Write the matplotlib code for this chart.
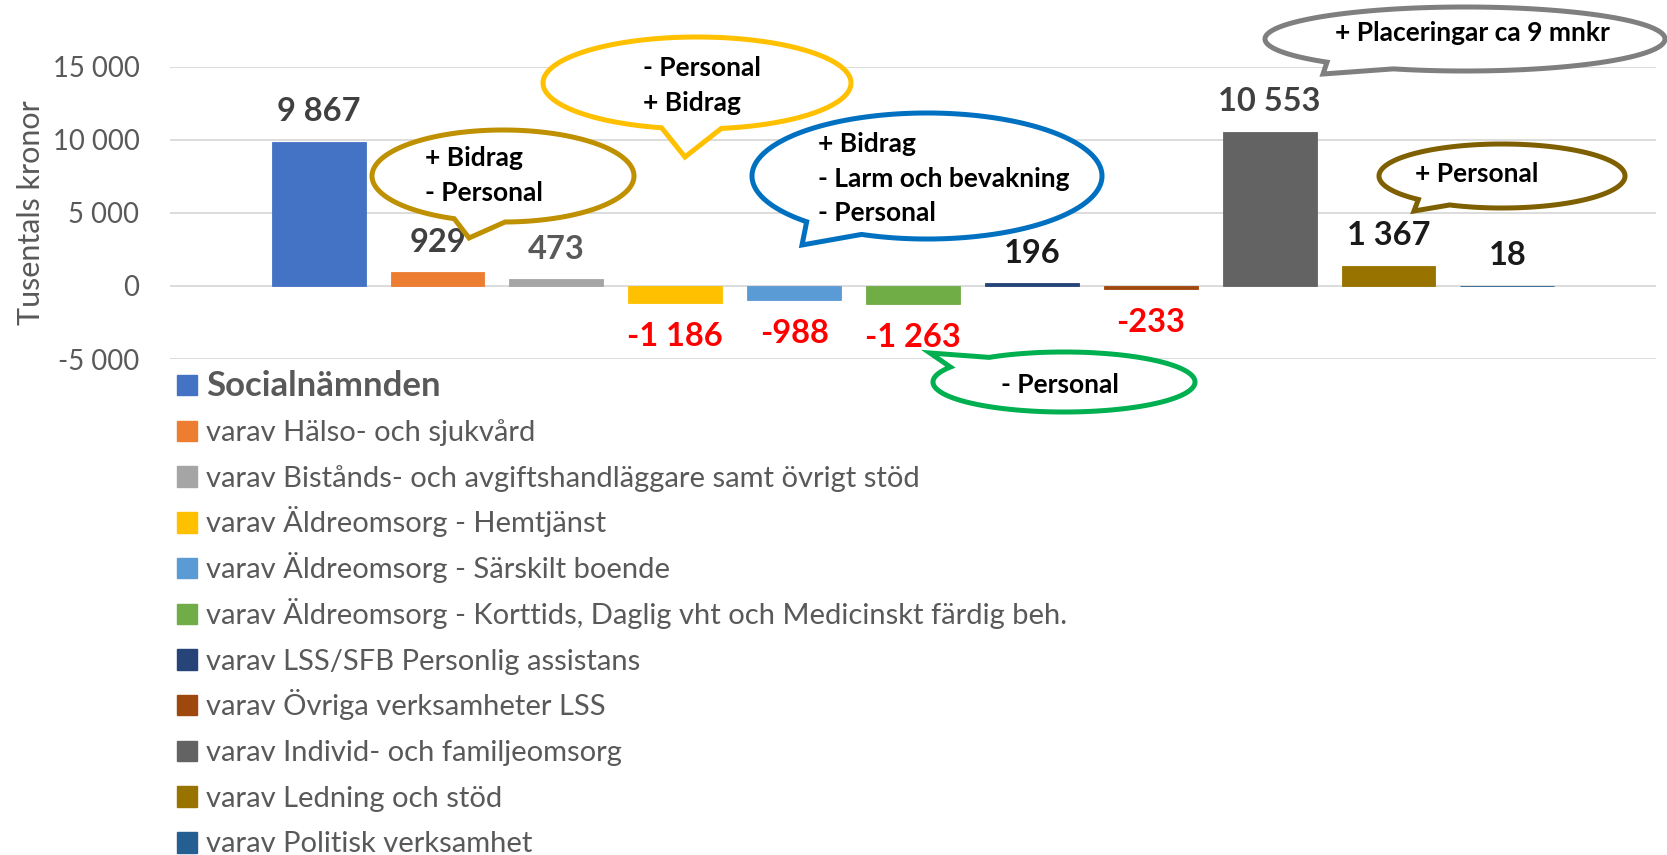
import matplotlib
matplotlib.use('Agg')
import matplotlib.pyplot as plt
import numpy as np
from matplotlib.path import Path
from matplotlib.patches import PathPatch, Rectangle

plt.rcParams['font.family'] = ['Lato', 'DejaVu Sans']

categories = [
	'Socialnämnden',
	'varav Hälso- och sjukvård',
	'varav Bistånds- och avgiftshandläggare samt övrigt stöd',
	'varav Äldreomsorg - Hemtjänst',
	'varav Äldreomsorg - Särskilt boende',
	'varav Äldreomsorg - Korttids, Daglig vht och Medicinskt färdig beh.',
	'varav LSS/SFB Personlig assistans',
	'varav Övriga verksamheter LSS',
	'varav Individ- och familjeomsorg',
	'varav Ledning och stöd',
	'varav Politisk verksamhet',
]
values = [9867, 929, 473, -1186, -988, -1263, 196, -233, 10553, 1367, 18]
colors = ['#4472C4', '#ED7D31', '#A5A5A5', '#FFC000', '#5B9BD5', '#70AD47',
	'#264478', '#9E480E', '#636363', '#997300', '#255E91']
label_colors = ['#404040', '#404040', '#595959', 'red', 'red', 'red',
	'#1a1a1a', 'red', '#404040', '#1a1a1a', '#1a1a1a']
yticks = [-5000, 0, 5000, 10000, 15000]

# speech bubbles, in pixel coords of the picture (x right, y down)
# (lines, colour, centre, radii, tip, base1, base2, text pos, align)
bubbles = [
	(['+ Bidrag', '- Personal'], '#BF9000', (503, 176), (131, 46),
		(469, 238), (455, 218), (505, 220), [(425, 158), (425, 193)], 'left'),
	(['- Personal', '+ Bidrag'], '#FFC000', (697, 83), (154, 46),
		(685, 157), (663, 126), (720, 126), [(643, 68), (643, 103)], 'left'),
	(['+ Bidrag', '- Larm och bevakning', '- Personal'], '#0070C0', (927, 176), (175, 63),
		(802, 245), (806, 222), (862, 234), [(818, 144), (818, 179), (818, 213)], 'left'),
	(['- Personal'], '#00B050', (1064, 382), (131, 30),
		(930, 353), (950, 367), (988, 357), [(1060, 385)], 'center'),
	(['+ Placeringar ca 9 mnkr'], '#7F7F7F', (1465, 39), (200, 32),
		(1323, 74), (1328, 62), (1393, 69), [(1472, 33)], 'center'),
	(['+ Personal'], '#7F6000', (1502, 176), (123, 32),
		(1414, 211), (1420, 199), (1455, 202), [(1415, 174)], 'left'),
]


def speech_bubble(ax, c, r, tip, base1, base2, color):
	cx, cy = c
	a, b = r
	t1 = np.arctan2((base1[1] - cy) / b, (base1[0] - cx) / a)
	t2 = np.arctan2((base2[1] - cy) / b, (base2[0] - cx) / a)
	if (t2 - t1) % (2 * np.pi) > np.pi:
		t1, t2 = t2, t1
	gap = (t2 - t1) % (2 * np.pi)
	ts = np.linspace(t2, t2 + 2 * np.pi - gap, 300)
	pts = np.column_stack([cx + a * np.cos(ts), cy + b * np.sin(ts)])
	verts = np.vstack([pts, [tip], pts[:1]])
	codes = [Path.MOVETO] + [Path.LINETO] * len(pts) + [Path.CLOSEPOLY]
	ax.add_patch(PathPatch(Path(verts, codes), facecolor='white', edgecolor=color,
		lw=3.6, joinstyle='miter'))


W, H = 1667, 855
fig = plt.figure(figsize=(W / 100, H / 100), dpi=100)
ax = fig.add_axes([170 / W, 1 - 359 / H, 1486 / W, (359 - 66.7) / H])

x = np.arange(len(values))
# thin edge in the bar colour so the tiny bars still show as a line
bars = ax.bar(x, values, width=0.79, color=colors, edgecolor=colors,
	linewidth=0.6, zorder=2)
ax.set_xlim(-1.25, 11.25)
ax.set_ylim(-5000, 15000)
ax.set_yticks(yticks)
ax.set_yticklabels([f'{v:,}'.replace(',', ' ') for v in yticks])
ax.tick_params(axis='y', length=0, pad=22, labelsize=19.8, labelcolor='#595959')
ax.set_xticks([])
ax.grid(axis='y', color='#D9D9D9', lw=1.3, zorder=0)
for s in ax.spines.values():
	s.set_visible(False)
ax.set_ylabel('Tusentals kronor', fontsize=22, color='#595959')
ax.yaxis.set_label_coords(-0.084, 0.5)

for i, v in enumerate(values):
	off = 21.6 if v >= 0 else -23.8
	ax.annotate(f'{v:,}'.replace(',', ' '), (x[i], v), xytext=(0, off),
		textcoords='offset points', ha='center', va='center',
		fontsize=23.5, fontweight='bold', color=label_colors[i])

# overlay in pixel coords for legend and callouts
ov = fig.add_axes([0, 0, 1, 1], zorder=5)
ov.set_xlim(0, W)
ov.set_ylim(H, 0)
ov.axis('off')

# legend: one row per series, fixed pitch like the Excel legend
for i, (lab, col) in enumerate(zip(categories, colors)):
	yc = 385.3 + 45.7 * i
	ov.add_patch(Rectangle((176.5, yc - 10.3), 20.5, 20.5, color=col))
	if i == 0:
		ov.text(206, yc + 11, lab, fontsize=25, fontweight='bold',
			color='#595959', va='baseline')
	else:
		ov.text(206, yc + 10, lab, fontsize=21, color='#595959', va='baseline')

for lines, col, c, r, tip, b1, b2, pos, ha in bubbles:
	speech_bubble(ov, c, r, tip, b1, b2, col)
	for txt, (tx, ty) in zip(lines, pos):
		ov.text(tx, ty, txt, ha=ha, va='center', fontsize=19,
			fontweight='bold', color='black')

fig.savefig('out.png', dpi=100)
